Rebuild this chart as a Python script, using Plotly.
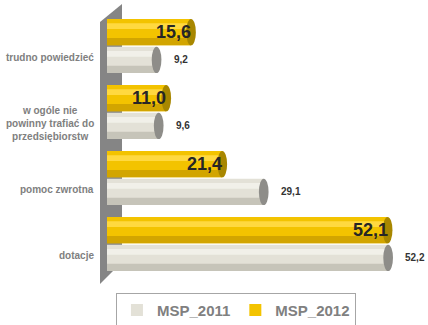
"""Poziome słupki 'cylindryczne' MSP_2011 vs MSP_2012."""

import plotly.graph_objects as go

# ── Data ──────────────────────────────────────────────────────────────────────
CATEGORIES = [
    "trudno powiedzieć",
    "w ogóle nie<br>powinny trafiać do<br>przedsiębiorstw",
    "pomoc zwrotna",
    "dotacje",
]
MSP_2011 = [9.2, 9.6, 29.1, 52.2]
MSP_2012 = [15.6, 11.0, 21.4, 52.1]
SERIES = ["MSP_2011", "MSP_2012"]

# ── Style ─────────────────────────────────────────────────────────────────────
FONT = "Liberation Sans, Arial, sans-serif"
W = 0.40  # bar thickness in y units
STYLE = {
    # name: (offset, base, light stripe, dark stripe, cap)
    "MSP_2011": (-0.41, "#e3e1d7", "#f1f0e9", "#c6c4b9", "#8e8d89"),
    "MSP_2012": (0.01, "#f3c300", "#ffd940", "#d2a500", "#a88700"),
}

pos = list(range(len(CATEGORIES)))[::-1]  # first category on top

fig = go.Figure()
shapes = []
annotations = []

for name, values in zip(SERIES, [MSP_2011, MSP_2012]):
    off, base, light, dark, cap = STYLE[name]
    # body
    fig.add_trace(go.Bar(
        name=name, x=values, y=pos, orientation="h",
        width=W, offset=off,
        marker=dict(color=base, line=dict(width=0)),
    ))
    # cylinder shading: highlight near top, shadow at bottom
    fig.add_trace(go.Bar(
        x=values, y=pos, orientation="h",
        width=W * 0.22, offset=off + W * 0.62,
        marker=dict(color=light, line=dict(width=0)),
        showlegend=False, hoverinfo="skip",
    ))
    fig.add_trace(go.Bar(
        x=values, y=pos, orientation="h",
        width=W * 0.28, offset=off,
        marker=dict(color=dark, line=dict(width=0)),
        showlegend=False, hoverinfo="skip",
    ))
    for v, p in zip(values, pos):
        shapes.append(dict(
            type="circle", xref="x", yref="y",
            x0=v - 0.9, x1=v + 0.9, y0=p + off, y1=p + off + W,
            fillcolor=cap, line=dict(width=0), layer="above",
        ))
        label = f"{v:.1f}".replace(".", ",")
        if name == "MSP_2012":
            annotations.append(dict(
                x=v, y=p + off + W / 2, xref="x", yref="y",
                text=f"<b>{label}</b>", showarrow=False,
                xanchor="right", xshift=2,
                font=dict(family=FONT, size=18, color="#262626"),
            ))
        else:
            annotations.append(dict(
                x=v, y=p + off + W / 2, xref="x", yref="y",
                text=f"<b>{label}</b>", showarrow=False,
                xanchor="left", xshift=15,
                font=dict(family=FONT, size=10, color="#333333"),
            ))

# category labels sit slightly below the group centre
for cat, p in zip(CATEGORIES, pos):
    annotations.append(dict(
        x=-0.036, y=p - 0.17, xref="paper", yref="y",
        text=f"<b>{cat}</b>", showarrow=False,
        xanchor="right", align="center",
        font=dict(family=FONT, size=10, color="#808080"),
    ))

# grey 3D side wall
shapes.append(dict(
    type="path", xref="paper", yref="paper",
    path="M -0.0228 0.966 L 0.0489 1.034 L 0.0489 0.0568 L -0.0228 -0.0265 Z",
    fillcolor="#858585", line=dict(width=0), layer="below",
))

fig.update_layout(
    barmode="overlay",
    width=428, height=325,
    margin=dict(l=107, r=14, t=13, b=48, autoexpand=False),
    paper_bgcolor="white", plot_bgcolor="white",
    font=dict(family=FONT),
    xaxis=dict(range=[0, 57], visible=False),
    yaxis=dict(range=[-0.5, 3.5], visible=False),
    shapes=shapes,
    annotations=annotations,
    showlegend=True,
    legend=dict(
        orientation="h",
        x=0.42, xanchor="center",
        y=-0.06, yanchor="top",
        itemwidth=30,
        bordercolor="#a6a6a6", borderwidth=1,
        font=dict(family=FONT, size=15, color="#808080", weight="bold"),
        traceorder="normal",
    ),
)

# page body has a default 8px margin – drop it so the figure fills the window
fig.write_html(
    "out.html",
    config={"displayModeBar": False},
    post_script="document.body.style.margin='0';",
)
